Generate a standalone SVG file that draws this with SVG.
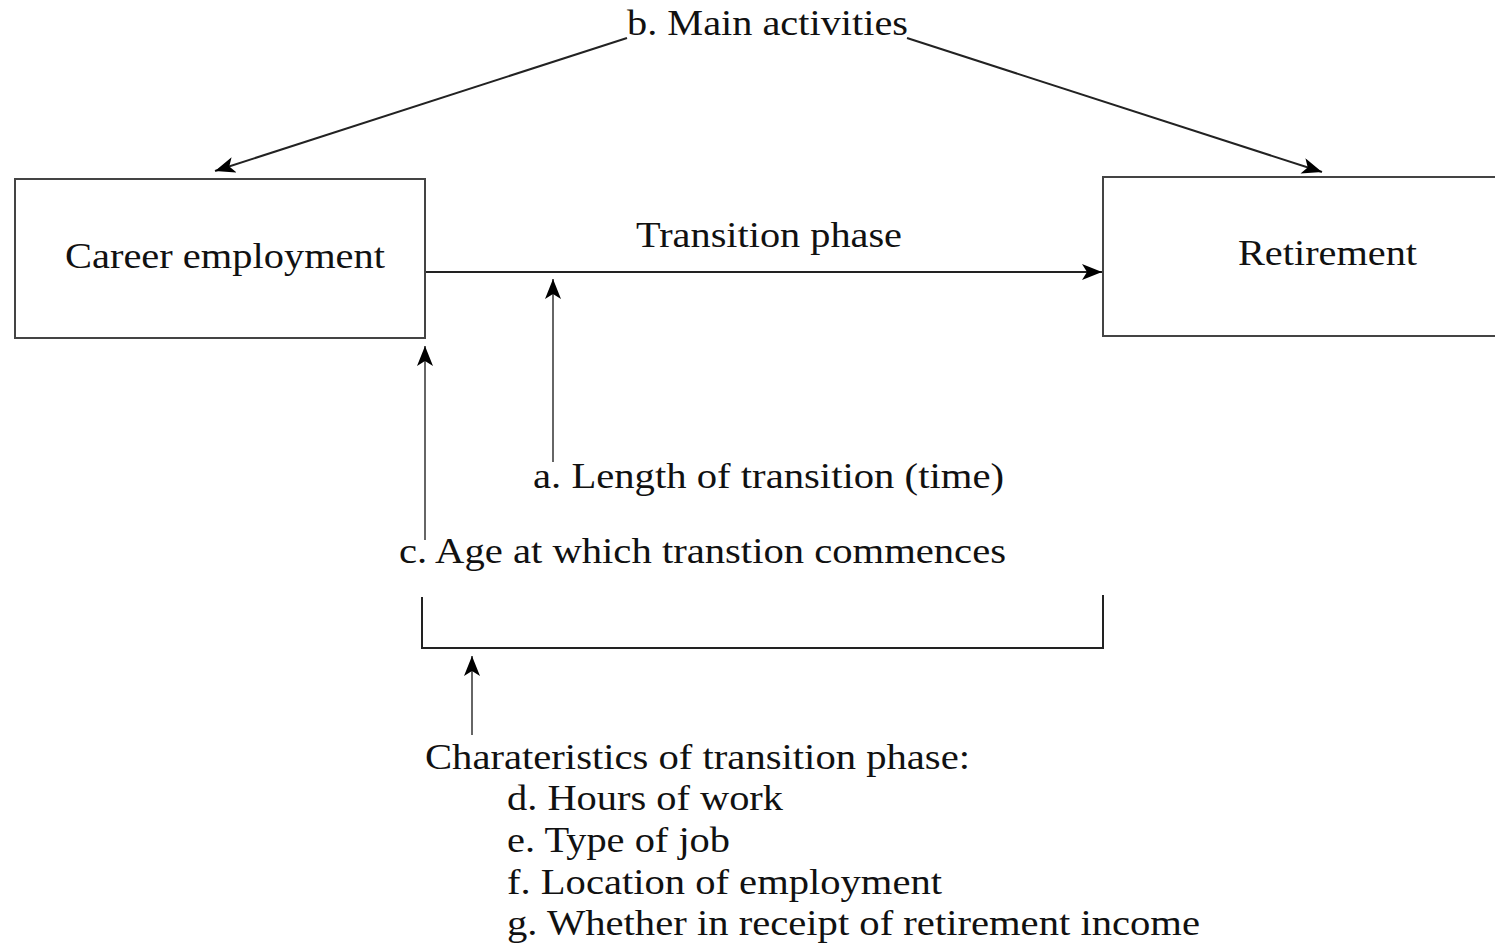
<svg xmlns="http://www.w3.org/2000/svg" width="1495" height="944" viewBox="0 0 1495 944">
<defs>
<style>
.t{font-family:"Liberation Serif","Times New Roman",serif;font-size:35px;fill:#111;}
.box{fill:#fff;stroke:#444;stroke-width:2;}
.c{fill:none;stroke:#222;stroke-width:2;}
.g{fill:none;stroke:#666;stroke-width:2;}
</style>
<marker id="ah" markerUnits="userSpaceOnUse" markerWidth="22" markerHeight="18" refX="20" refY="8" orient="auto">
<path d="M0,0 L20,8 L0,16 L5,8 z" fill="#000"/>
</marker>
</defs>
<rect width="1495" height="944" fill="#fff"/>
<g id="career">
<rect class="box" x="15" y="179" width="410" height="159"/>
<text class="t" x="65" y="268" textLength="320" lengthAdjust="spacingAndGlyphs">Career employment</text>
</g>
<g id="retirement">
<path class="box" d="M1500,177 H1103 V336 H1500"/>
<text class="t" x="1238" y="265" textLength="179" lengthAdjust="spacingAndGlyphs">Retirement</text>
</g>
<g id="main-activities">
<text class="t" x="627" y="35" textLength="281" lengthAdjust="spacingAndGlyphs">b. Main activities</text>
</g>
<g id="transition-label">
<text class="t" x="636" y="247" textLength="266" lengthAdjust="spacingAndGlyphs">Transition phase</text>
</g>
<g id="length">
<text class="t" x="533" y="488" textLength="471" lengthAdjust="spacingAndGlyphs">a. Length of transition (time)</text>
</g>
<g id="age">
<text class="t" x="399" y="563" textLength="607" lengthAdjust="spacingAndGlyphs">c. Age at which transtion commences</text>
</g>
<g id="characteristics">
<text class="t" x="425" y="769" textLength="545" lengthAdjust="spacingAndGlyphs">Charateristics of transition phase:</text>
<text class="t" x="507" y="810" textLength="276" lengthAdjust="spacingAndGlyphs">d. Hours of work</text>
<text class="t" x="507" y="852" textLength="223" lengthAdjust="spacingAndGlyphs">e. Type of job</text>
<text class="t" x="507" y="894" textLength="435" lengthAdjust="spacingAndGlyphs">f. Location of employment</text>
<text class="t" x="507" y="935" textLength="693" lengthAdjust="spacingAndGlyphs">g. Whether in receipt of retirement income</text>
</g>
<g id="connectors">
<line class="c" x1="627" y1="38" x2="215" y2="171" marker-end="url(#ah)"/>
<line class="c" x1="907" y1="38" x2="1322" y2="172" marker-end="url(#ah)"/>
<line class="c" x1="426" y1="272" x2="1102" y2="272" marker-end="url(#ah)"/>
<line class="g" x1="553" y1="462" x2="553" y2="279" marker-end="url(#ah)"/>
<line class="g" x1="425" y1="540" x2="425" y2="346" marker-end="url(#ah)"/>
<polyline class="c" points="422,597 422,648 1103,648 1103,595"/>
<line class="g" x1="472" y1="735" x2="472" y2="656" marker-end="url(#ah)"/>
</g>
</svg>
